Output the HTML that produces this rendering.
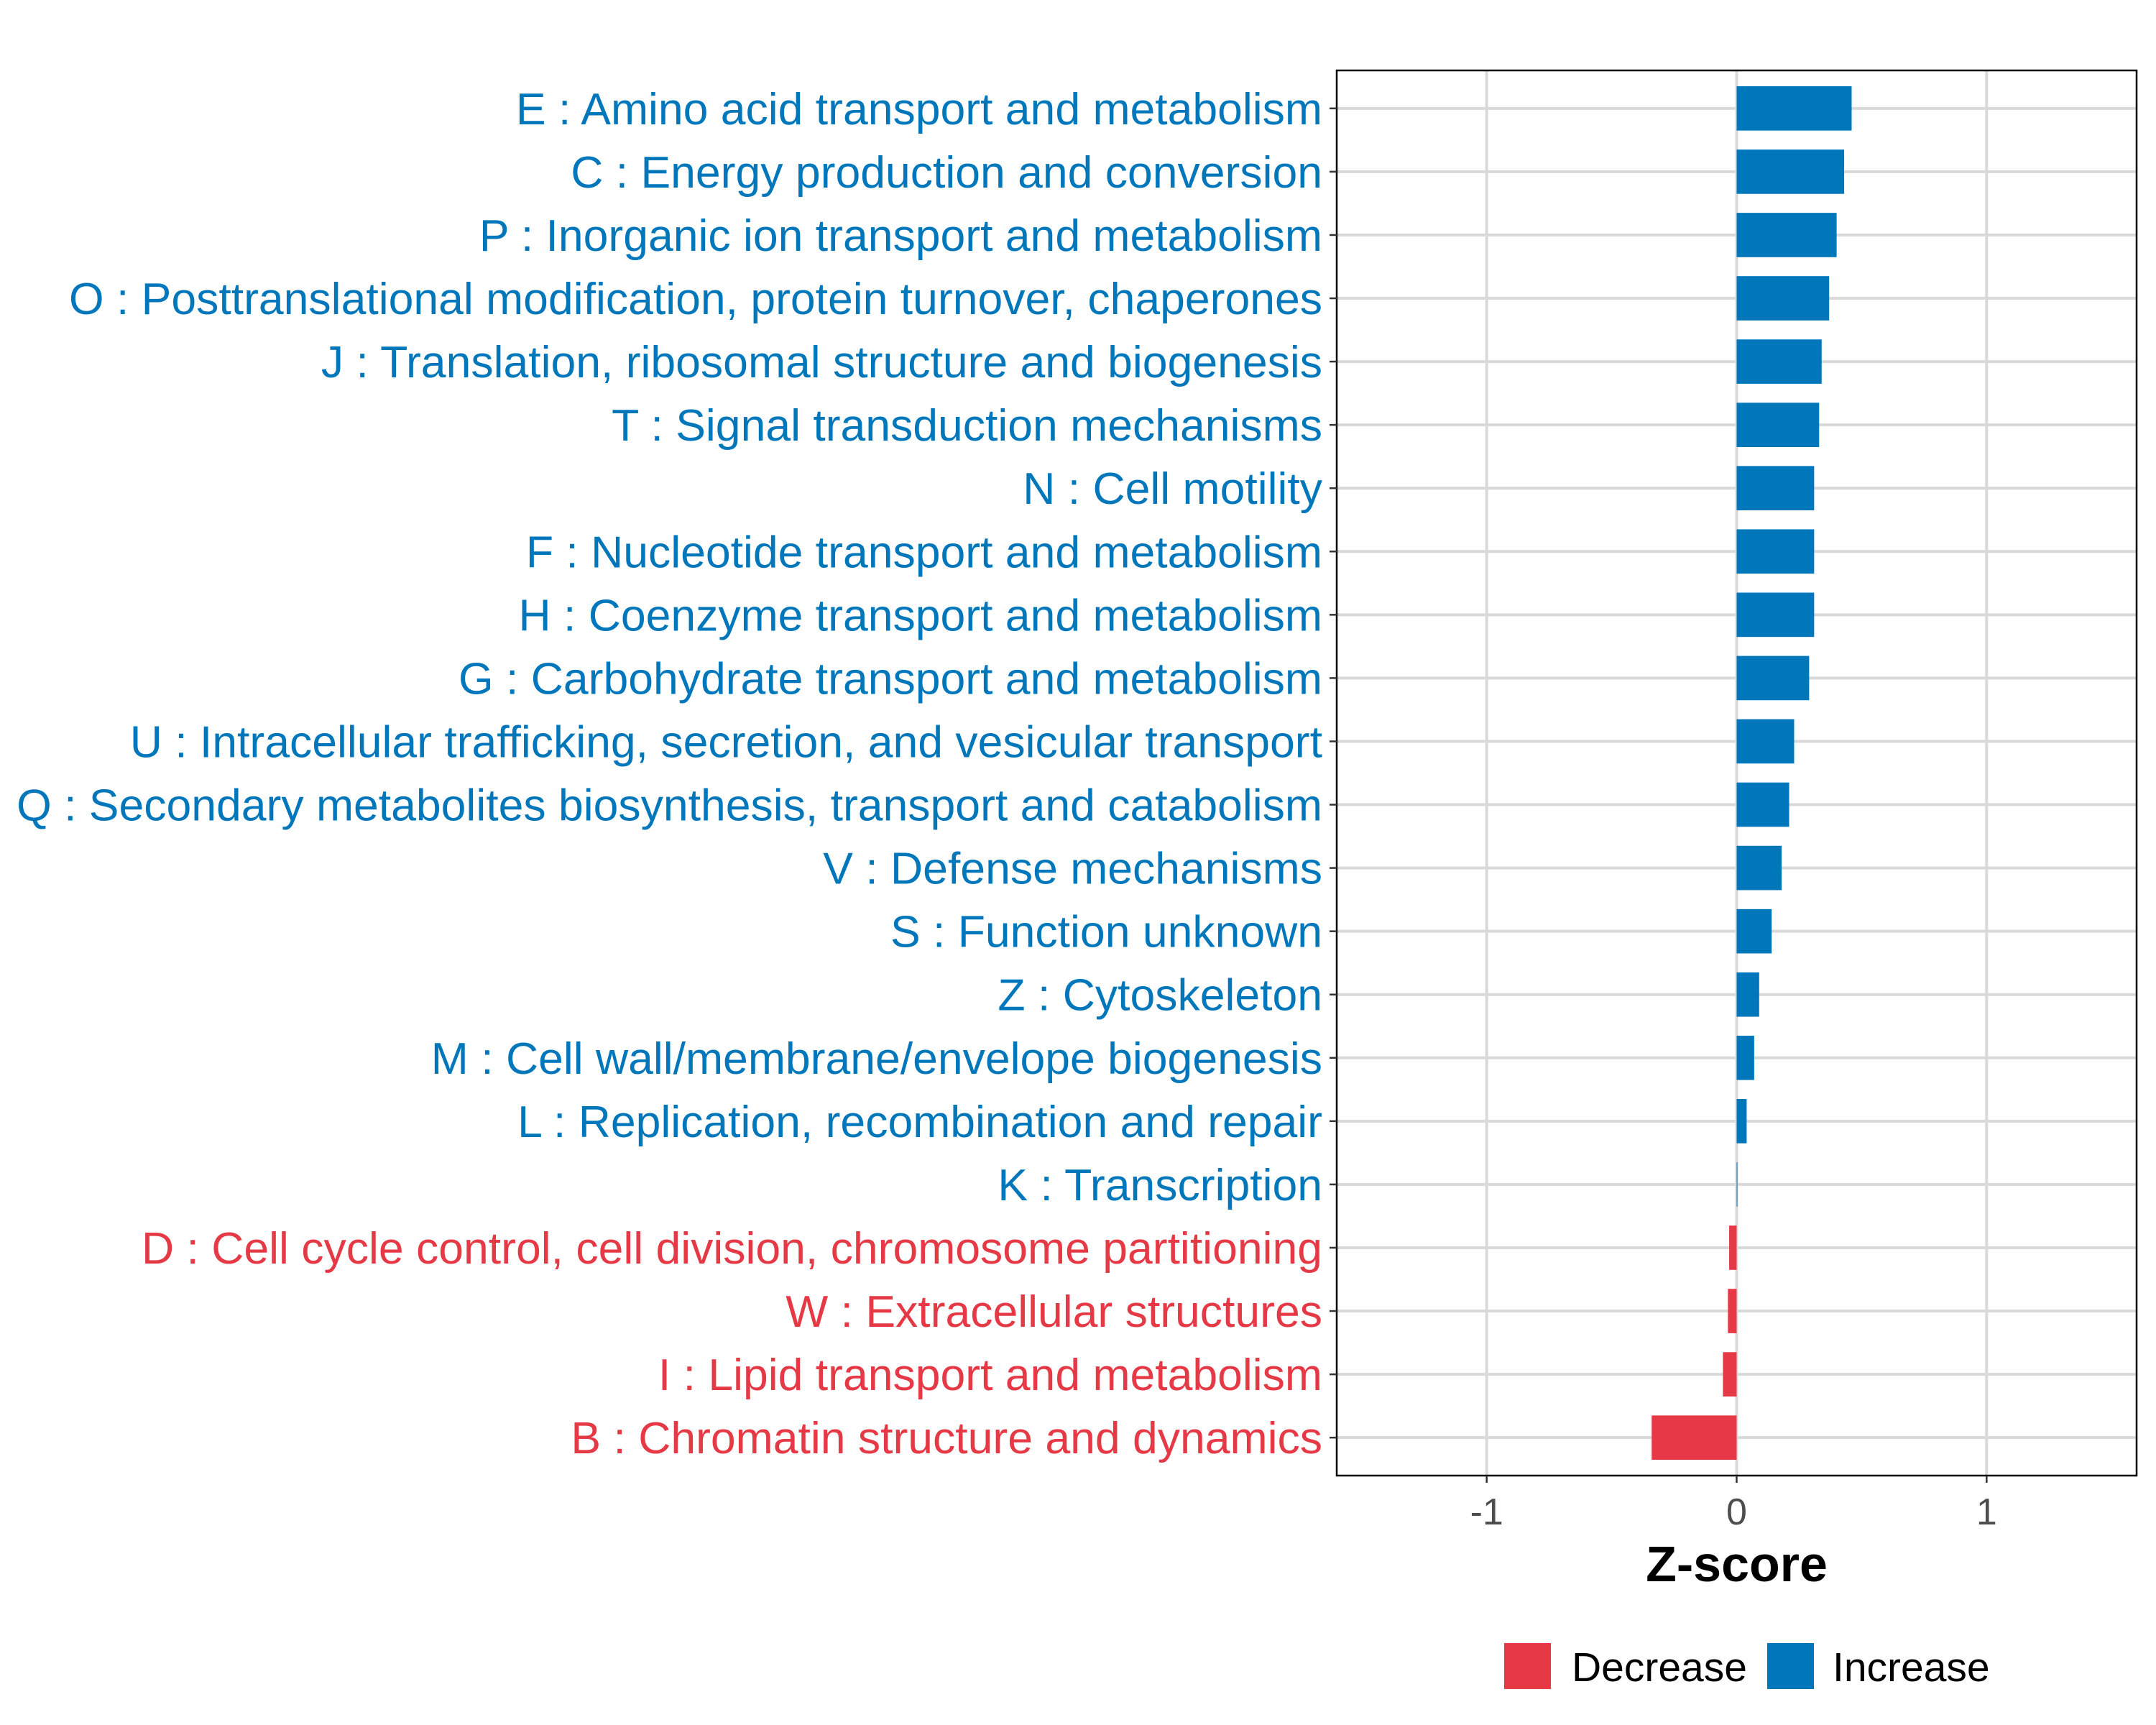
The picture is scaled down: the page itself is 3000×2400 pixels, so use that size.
<!DOCTYPE html>
<html><head><meta charset="utf-8"><style>html,body{margin:0;padding:0;background:#fff}svg{display:block}text{font-family:"Liberation Sans",Arial,sans-serif}</style></head>
<body>
<svg id="chart" width="3000" height="2400" viewBox="0 0 3000 2400" xmlns="http://www.w3.org/2000/svg"></svg>
<script>
const categories = ["E : Amino acid transport and metabolism","C : Energy production and conversion","P : Inorganic ion transport and metabolism","O : Posttranslational modification, protein turnover, chaperones","J : Translation, ribosomal structure and biogenesis","T : Signal transduction mechanisms","N : Cell motility","F : Nucleotide transport and metabolism","H : Coenzyme transport and metabolism","G : Carbohydrate transport and metabolism","U : Intracellular trafficking, secretion, and vesicular transport","Q : Secondary metabolites biosynthesis, transport and catabolism","V : Defense mechanisms","S : Function unknown","Z : Cytoskeleton","M : Cell wall/membrane/envelope biogenesis","L : Replication, recombination and repair","K : Transcription","D : Cell cycle control, cell division, chromosome partitioning","W : Extracellular structures","I : Lipid transport and metabolism","B : Chromatin structure and dynamics"];
const zscores = [0.46,0.43,0.40,0.37,0.34,0.33,0.31,0.31,0.31,0.29,0.23,0.21,0.18,0.14,0.09,0.07,0.04,0.003,-0.03,-0.035,-0.055,-0.34];
const xTicks = [-1,0,1];
const xTickLabels = ["-1","0","1"];
const legendLabels = ["Decrease","Increase"];

const NS="http://www.w3.org/2000/svg";
const svg=document.getElementById('chart');
const L=1860,R=2973,T=98,B=2053;
const xMin=-1.6,xMax=1.6;
const BLUE="#0077BB",RED="#E63946";
function X(v){return L+(v-xMin)/(xMax-xMin)*(R-L);}
const n=categories.length;
const step=(B-T)/(n-1+1.2);
function Y(i){return T+step*(i+0.6);}
function el(tag,attrs,parent){const e=document.createElementNS(NS,tag);for(const k in attrs)e.setAttribute(k,attrs[k]);(parent||svg).appendChild(e);return e;}

const grid=el('g',{});


xTicks.forEach(t=>{el('line',{x1:X(t),x2:X(t),y1:T,y2:B,stroke:"#d9d9d9","stroke-width":4},grid);});
categories.forEach((c,i)=>{el('line',{x1:L,x2:R,y1:Y(i),y2:Y(i),stroke:"#d9d9d9","stroke-width":4},grid);});

const bars=el('g',{});


zscores.forEach((v,i)=>{
  const x0=X(Math.min(0,v)),x1=X(Math.max(0,v));
  const r=el('rect',{x:x0,y:Y(i)-step*0.35,width:Math.max(1,x1-x0),height:step*0.7,fill:v>=0?BLUE:RED},bars);
  
  
});

const frame=el('rect',{x:L,y:T,width:R-L,height:B-T,fill:"none",stroke:"#000","stroke-width":2.5});



const ylab=el('g',{});


categories.forEach((c,i)=>{
  el('line',{x1:L-10,x2:L,y1:Y(i),y2:Y(i),stroke:"#333","stroke-width":2.5},ylab);
  const t=el('text',{x:L-20,y:Y(i)+22,"text-anchor":"end","font-size":62.5,fill:zscores[i]>=0?BLUE:RED},ylab);
  t.textContent=c;
  
  
});

const xlab=el('g',{});


xTicks.forEach((t,i)=>{
  el('line',{x1:X(t),x2:X(t),y1:B,y2:B+10,stroke:"#333","stroke-width":2.5},xlab);
  const tx=el('text',{x:X(t),y:B+68,"text-anchor":"middle","font-size":52,fill:"#4d4d4d"},xlab);
  tx.textContent=xTickLabels[i];
  
  
});
const title=el('text',{x:X(0),y:2200,"text-anchor":"middle","font-size":70,"font-weight":"bold",fill:"#000"});
title.textContent="Z-score";



const leg=el('g',{});


const lx=[2093,2459],tx=[2187,2550],lc=[RED,BLUE];
legendLabels.forEach((lab,i)=>{
  const e=el('g',{},leg);
  
  
  el('rect',{x:lx[i],y:2286,width:65,height:64,fill:lc[i]},e);
  const t=el('text',{x:tx[i],y:2339,"font-size":57,fill:"#000"},e);
  t.textContent=lab;
});
</script>
</body></html>
